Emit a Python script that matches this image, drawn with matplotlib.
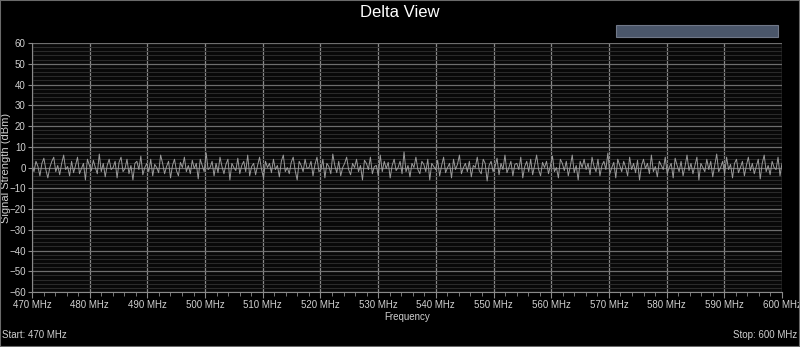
import numpy as np
import matplotlib
matplotlib.use("Agg")
import matplotlib.pyplot as plt
from matplotlib.patches import Rectangle
from matplotlib.ticker import MultipleLocator, FuncFormatter

plt.rcParams["font.family"] = ["Liberation Sans", "DejaVu Sans"]

# Data
start_mhz = 470
stop_mhz = 600
y_ticks = list(range(-60, 61, 10))
x_ticks = list(range(470, 601, 10))

delta_db = [
    1.5, -2, 3, 0.5, -4, 2, 4.5, -1, -5, 0, 3, 5, -2, 1, -3.5, 2, 6, -1, 0.5, -4,
    3, -2.5, 1, 5, -3, -0.5, 2, -6, 4, 1, -1.5, 3.5, 0, -3, 6.5, -2, 2, -4.5, 1, 4,
    -1, 0, 3, -5, 2.5, 5, -2, -0.5, 4, -3, 1, -6, 2, 3, -1, 5.5, -3.5, 0, 2, -2,
    4, -4, 1.5, 0, -2.5, 6, 2, -3, 0.5, 3, -5, 1, 4, -1.5, -4, 2.5, 0, 5, -2, 1,
    -3, 3.5, -0.5, 2, -5.5, 4, 1, -2, 7, -1, 0, 3, -4, 2, -2.5, 5, 0.5, -3, 1.5, 4,
    -6, 2, 0, -1.5, 4.5, -3, 1, 3, -2, 6, -4, 0.5, 2, -3.5, 1, 5, -1, -5, 3, 0,
    2, -2.5, 4, -1, 1, -4.5, 3, 6, -2, 0, -3, 2.5, 5, -1.5, -6, 3, 1, -2, 4, -0.5,
    0, 3, -4, 1.5, 5, -2, -1, 4, -5, 2, 0.5, -3, 6.5, 1, -2.5, 3, -4, 0, 2, 5,
    -1, -3.5, 2, 0, 4, -2, 1, -6, 3.5, 2, -1, 5, -3, 0.5, 1, -4, 6, -2, 3, -0.5,
    2.5, -5, 1, 4, -1.5, 0, 3, -3, 7.5, -2, 1, -4.5, 2, 0, 5, -1, -3, 3, 1.5, -2,
    4, -6, 2, 0.5, -1, 3.5, -4, 1, 5, -2.5, 0, 2, -5, 4, -1, 1.5, 6, -3, 0, 2,
    -2, 3, -4.5, 1, 0, 5, -1.5, -3, 4, 2, -6.5, 1, 3, -2, 0.5, 4.5, -3.5, 2, -1, 6,
    -2.5, 0, 3, -4, 1.5, 2, -1, 5, -5, 0.5, 3, -2, 4, -3.5, 1, 6, -1, -4, 2.5, 0,
    3, -3, 1, 5.5, -2, 0, -5, 4, 2, -1.5, 3, -4, 0.5, 6, -2.5, 1, -6, 3, 0, 4,
    -1, 2, -3.5, 5, 0.5, -2, 4, -4, 1, 3, -1, 7, -3, 0, 2.5, -5, 4, 1, -2, 3,
    0, -4, 5, -1, 2, -2.5, 3.5, -6, 1, 4, -0.5, 2, -3, 6, -2, 0.5, -4.5, 3, 1, -1,
    5, -3, 0, 2, -5, 4.5, 1, -2, 3, -4, 0.5, 6, -1.5, 2, -3, 1, 5, -6, 2, 0,
    -2, 4, -1, 3, -4.5, 1, 6.5, -2, 0, 3, -3, 5, -1, 1.5, -5, 2, 4, -2.5, 0, 3,
    -4, 1, 5, -1.5, 2, -3, 0.5, 4, -5.5, 2, 6, -2, 1, -3.5, 3, 0, -1, 5, -4, 2,
]
freq_mhz = np.linspace(start_mhz, stop_mhz, len(delta_db))

txt = "#d0d0d0"
fig = plt.figure(figsize=(8, 3.47), dpi=100, facecolor="black")
fig.patches.append(Rectangle((0, 0), 1, 1, transform=fig.transFigure,
                             fill=False, edgecolor="#6a6a6a", lw=1.5))

ax = fig.add_axes([0.04, 0.1585, 0.9375, 0.7175])
ax.set_facecolor("#080808")
ax.plot(freq_mhz, delta_db, color="#9c9c9c", lw=0.7)

ax.set_xlim(start_mhz, stop_mhz)
ax.set_ylim(-60, 60)
ax.set_xticks(x_ticks)
ax.set_yticks(y_ticks)
ax.xaxis.set_minor_locator(MultipleLocator(2))
ax.yaxis.set_minor_locator(MultipleLocator(2))
ax.xaxis.set_major_formatter(FuncFormatter(lambda v, p: f"{v:.0f} MHz"))

ax.grid(which="major", axis="x", color="#8a8a8a", lw=0.9)
ax.grid(which="major", axis="y", color="#6e6e6e", lw=0.9)
ax.grid(which="minor", axis="y", color="#2a2a2a", lw=0.8)
ax.set_axisbelow(True)

ax.tick_params(axis="both", which="both", colors="#8a8a8a", labelcolor=txt,
               labelsize=7, direction="out")
ax.tick_params(axis="x", which="major", length=4, pad=2)
ax.tick_params(axis="x", which="minor", length=3)
ax.tick_params(axis="y", which="major", length=3, pad=1.5)
ax.tick_params(axis="y", which="minor", length=0)

for side in ["top", "right"]:
    ax.spines[side].set_visible(False)
ax.spines["left"].set_color("#8a8a8a")
ax.spines["bottom"].set_color("#8a8a8a")

ax.set_xlabel("Frequency", color=txt, fontsize=7, labelpad=1)
ax.set_ylabel("Signal Strength (dBm)", color=txt, fontsize=8)
ax.yaxis.set_label_coords(-0.0285, 0.5)

fig.text(0.5, 0.965, "Delta View", color="white", fontsize=12, ha="center", va="center")
fig.patches.append(Rectangle((0.77, 0.893), 0.202, 0.035, transform=fig.transFigure,
                             facecolor="#4a566a", edgecolor="#707888", lw=0.8))
fig.text(0.003, 0.02, f"Start: {start_mhz} MHz", color=txt, fontsize=7, ha="left", va="bottom")
fig.text(0.997, 0.02, f"Stop: {stop_mhz} MHz", color=txt, fontsize=7, ha="right", va="bottom")

fig.savefig("out.png", dpi=100, facecolor=fig.get_facecolor())
